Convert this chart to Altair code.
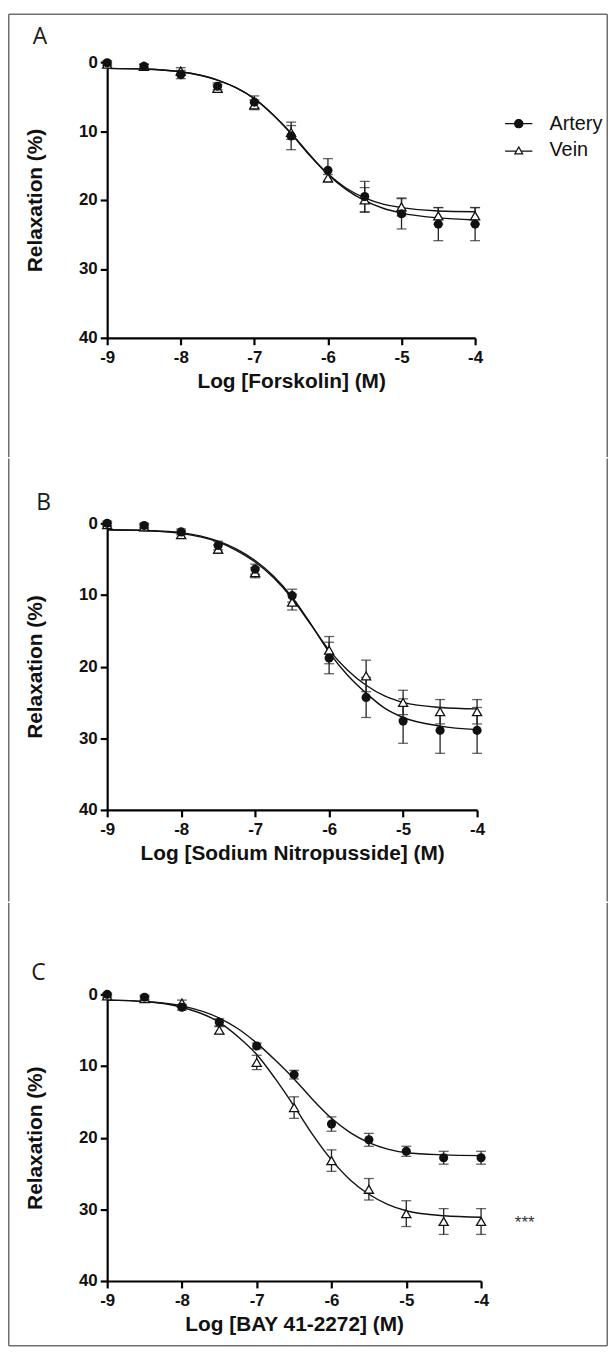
import altair as alt
import pandas as pd

# ---------------- data ----------------
SERIES = ["Artery", "Vein"]
DOSES = [-9, -8.5, -8, -7.5, -7, -6.5, -6, -5.5, -5, -4.5, -4]
CURVE_X = [-9, -8.5, -8, -7.5, -7.25, -7, -6.75, -6.5, -6.25, -6, -5.75, -5.5, -5.25, -5, -4.5, -4]
X_TICKS = [-9, -8, -7, -6, -5, -4]
Y_TICKS = [0, 10, 20, 30, 40]
Y_TITLE = "Relaxation (%)"

A_LETTER = "A"
A_XTITLE = "Log [Forskolin] (M)"
A_ART_MEAN = [0.1, 0.6, 1.8, 3.5, 5.8, 10.7, 15.7, 19.5, 22.0, 23.5, 23.5]
A_ART_SEM = [0.3, 0.3, 0.6, 0.5, 0.9, 2.0, 1.7, 2.2, 2.2, 2.4, 2.4]
A_VEIN_MEAN = [0.3, 0.6, 1.3, 3.8, 6.2, 10.2, 16.8, 20.0, 21.0, 22.3, 22.3]
A_VEIN_SEM = [0.2, 0.3, 0.5, 0.5, 0.7, 1.0, 0.5, 1.8, 1.3, 1.2, 1.2]
A_ART_CURVE = [0.9, 1.0, 1.4, 2.6, 3.7, 5.3, 7.6, 10.3, 13.4, 16.3, 18.5, 20.1, 21.2, 21.9, 22.6, 22.9]
A_VEIN_CURVE = [0.9, 1.0, 1.4, 2.6, 3.7, 5.3, 7.6, 10.4, 13.5, 16.2, 18.3, 19.7, 20.6, 21.1, 21.6, 21.7]

B_LETTER = "B"
B_XTITLE = "Log [Sodium Nitropusside] (M)"
B_ART_MEAN = [0.0, 0.3, 1.2, 3.1, 6.4, 10.1, 18.8, 24.3, 27.6, 28.9, 28.9]
B_ART_SEM = [0.3, 0.3, 0.4, 0.6, 0.7, 0.9, 2.2, 2.8, 3.1, 3.2, 3.2]
B_VEIN_MEAN = [0.2, 0.5, 1.6, 3.6, 6.9, 11.0, 17.7, 21.3, 25.0, 26.3, 26.3]
B_VEIN_SEM = [0.2, 0.3, 0.5, 0.6, 0.7, 1.1, 1.9, 2.2, 1.7, 1.7, 1.7]
B_ART_CURVE = [0.9, 1.0, 1.3, 2.5, 3.6, 5.2, 7.4, 10.3, 14.0, 18.0, 21.2, 23.7, 25.8, 27.1, 28.3, 28.8]
B_VEIN_CURVE = [0.9, 1.0, 1.4, 2.6, 3.8, 5.4, 7.6, 10.5, 14.1, 17.7, 20.5, 22.6, 24.1, 25.0, 25.7, 25.9]

C_LETTER = "C"
C_XTITLE = "Log [BAY 41-2272] (M)"
C_ART_MEAN = [0.0, 0.4, 1.8, 3.9, 7.2, 11.2, 18.1, 20.3, 21.9, 22.8, 22.8]
C_ART_SEM = [0.2, 0.3, 0.4, 0.5, 0.4, 0.6, 1.0, 0.9, 0.7, 0.9, 0.9]
C_VEIN_MEAN = [0.2, 0.6, 1.2, 5.0, 9.5, 15.8, 23.2, 27.2, 30.6, 31.7, 31.7]
C_VEIN_SEM = [0.2, 0.3, 0.4, 0.5, 1.0, 1.5, 1.5, 1.5, 1.8, 1.8, 1.8]
C_ART_CURVE = [0.8, 1.0, 1.6, 3.3, 4.8, 6.8, 9.2, 11.8, 14.7, 17.3, 19.3, 20.7, 21.6, 22.1, 22.4, 22.5]
C_VEIN_CURVE = [0.8, 1.0, 1.8, 3.9, 5.9, 8.4, 11.8, 15.6, 19.6, 23.1, 25.9, 27.9, 29.3, 30.2, 30.9, 31.1]
C_NOTE = "***"

# ---------------- layout / style ----------------
FRAME_LEFT, FRAME_RIGHT = 8, 613
FRAME_W = 1.5
FRAME_COLOR = "#6e6e6e"
INK = "#111111"
TICK_FONT = "Liberation Sans"
LETTER_FONT = "Open Sans"
PT_SIZE = 85
LEG_SIZE = 90
PX = 108  # common left edge of the three plot areas (page px)

# per-panel layout (page pixels): plot top, plot size, cell top/bottom,
# legend first-symbol centre, panel-letter left/baseline
LAYOUT = {
    "A": dict(top_y=57, size=(371, 278), cell=(8, 456), legend=(518, 119),
              letter=(33, 39), top=True, bottom=False),
    "B": dict(top_y=522, size=(373, 289), cell=(456, 904), legend=(519, 588),
              letter=(36.5, 509), top=False, bottom=False),
    "C": dict(top_y=997, size=(377, 289), cell=(904, 1352), legend=(524, 1062),
              letter=(31.5, 983), top=False, bottom=True),
}

# legend glyphs: filled shapes only (line stubs as thin bars, hollow triangle as ring)
ART_PATH = ("M-2.9,-0.14H-0.95V0.14H-2.9Z M0.95,-0.14H2.9V0.14H0.95Z "
            "M1,0A1,1 0 1,1 -1,0A1,1 0 1,1 1,0Z")
VEIN_PATH = ("M-2.9,0.01H-0.6V0.29H-2.9Z M0.6,0.01H2.9V0.29H0.6Z "
             "M0,-1L1.05,0.85L-1.05,0.85Z M0,-0.473L-0.604,0.59L0.604,0.59Z")

XS = alt.Scale(domain=[-9, -4], nice=False, zero=False)
YS = alt.Scale(domain=[0, 40], reverse=True, nice=False, zero=False)


def x_enc(title):
    return alt.X("dose:Q", scale=XS,
                 axis=alt.Axis(values=X_TICKS, title=title, labelExpr="'' + datum.value",
                               labelFlush=False, labelOverlap=False, labelPadding=5,
                               titlePadding=5))


def y_enc(field):
    return alt.Y(f"{field}:Q", scale=YS,
                 axis=alt.Axis(values=Y_TICKS, title=Y_TITLE, labelFlush=False,
                               labelOverlap=False, labelPadding=3, titlePadding=33))


def frame_rule(x1, x2, y1, y2):
    return alt.Chart(alt.Data(values=[{"f": 1}])).mark_rule(
        color=FRAME_COLOR, strokeWidth=FRAME_W
    ).encode(x=alt.value(x1), x2=alt.value(x2), y=alt.value(y1), y2=alt.value(y2))


def build_panel(letter, xtitle, am, asem, vm, vsem, ac, vc, note=None):
    L = LAYOUT[letter]
    px, py = PX, L["top_y"]
    w, h = L["size"]
    ctop, cbot = L["cell"]
    half = FRAME_W / 2
    xl = FRAME_LEFT - px + half
    xr = FRAME_RIGHT - px - half
    yt = ctop - py + half
    yb = cbot - py - half

    pts = pd.DataFrame({
        "dose": DOSES * 2,
        "val": am + vm,
        "sem": asem + vsem,
        "series": ["Artery"] * len(DOSES) + ["Vein"] * len(DOSES),
    })
    pts["lo"] = pts["val"] - pts["sem"]
    pts["hi"] = pts["val"] + pts["sem"]
    caps = pd.concat([
        pts[["dose", "lo"]].rename(columns={"lo": "val"}),
        pts[["dose", "hi"]].rename(columns={"hi": "val"}),
    ])
    curves = pd.DataFrame({
        "dose": CURVE_X * 2,
        "val": ac + vc,
        "series": ["Artery"] * len(CURVE_X) + ["Vein"] * len(CURVE_X),
    })

    X = x_enc(xtitle)
    curve = alt.Chart(curves).mark_line(
        interpolate="monotone", color=INK, strokeWidth=1.4
    ).encode(x=X, y=y_enc("val"), detail="series:N")

    bars = alt.Chart(pts).mark_rule(color="#222222", strokeWidth=1.3).encode(
        x=X, y=y_enc("lo"), y2="hi:Q")
    cap = alt.Chart(caps).mark_tick(
        orient="horizontal", size=10, thickness=1.3, color="#222222"
    ).encode(x=X, y=y_enc("val"))

    vein = alt.Chart(pts).transform_filter("datum.series == 'Vein'").mark_point(
        shape="triangle-up", filled=True, fill="white", stroke=INK, strokeWidth=1.3,
        size=PT_SIZE, opacity=1
    ).encode(x=X, y=y_enc("val"))
    art = alt.Chart(pts).transform_filter("datum.series == 'Artery'").mark_point(
        shape="circle", filled=True, color=INK, size=PT_SIZE, opacity=1
    ).encode(x=X, y=y_enc("val"))

    lx, ly = L["legend"]
    leg = alt.Legend(
        orient="none", legendX=lx - px - 5, legendY=ly - py - 10, title=None,
        labelFont=TICK_FONT, labelFontSize=20, labelColor=INK, labelOffset=21,
        symbolSize=LEG_SIZE, symbolFillColor=INK, symbolStrokeWidth=0,
        rowPadding=7, padding=0, symbolOpacity=1,
    )
    legend_layer = alt.Chart(pts).transform_filter("false").mark_point(
        filled=True, color=INK, opacity=1, strokeWidth=0
    ).encode(
        shape=alt.Shape("series:N", scale=alt.Scale(domain=SERIES, range=[ART_PATH, VEIN_PATH]),
                        legend=leg),
    )

    lxp, lyp = L["letter"]
    letter_mark = alt.Chart(alt.Data(values=[{"t": letter}])).mark_text(
        align="left", baseline="alphabetic", font=LETTER_FONT, fontSize=23,
        fontWeight="normal", color="#1a1a1a"
    ).encode(text="t:N", x=alt.value(lxp - px), y=alt.value(lyp - py))

    layers = [
        frame_rule(xl, xl, yt, yb),
        frame_rule(xr, xr, yt, yb),
    ]
    if L["top"]:
        layers.append(frame_rule(xl, xr, yt, yt))
    if L["bottom"]:
        layers.append(frame_rule(xl, xr, yb, yb))
    layers += [letter_mark, curve, bars, cap, vein, art, legend_layer]

    if note:
        layers.append(
            alt.Chart(pts).transform_filter("datum.series == 'Vein' && datum.dose == -4")
            .mark_text(text=note, dx=44, dy=7, baseline="alphabetic", align="center",
                       font=TICK_FONT, fontSize=17, color="#333333")
            .encode(x=X, y=y_enc("val"))
        )

    return alt.layer(*layers).properties(width=w, height=h)


pa = build_panel(A_LETTER, A_XTITLE, A_ART_MEAN, A_ART_SEM, A_VEIN_MEAN, A_VEIN_SEM,
                 A_ART_CURVE, A_VEIN_CURVE)
pb = build_panel(B_LETTER, B_XTITLE, B_ART_MEAN, B_ART_SEM, B_VEIN_MEAN, B_VEIN_SEM,
                 B_ART_CURVE, B_VEIN_CURVE)
pc = build_panel(C_LETTER, C_XTITLE, C_ART_MEAN, C_ART_SEM, C_VEIN_MEAN, C_VEIN_SEM,
                 C_ART_CURVE, C_VEIN_CURVE, note=C_NOTE)

chart = alt.vconcat(pa, pb, pc, spacing=0).properties(
    padding=0, background="white"
).configure_view(strokeWidth=0).configure_axis(
    grid=False, domainColor="black", domainWidth=2.2, tickColor="black", tickWidth=2.2,
    tickSize=7, labelFont=TICK_FONT, labelFontWeight="bold", labelFontSize=17,
    labelColor=INK, titleFont=TICK_FONT, titleFontWeight="bold", titleFontSize=21,
    titleColor=INK,
)

chart.save("out.html", embed_options={"renderer": "svg", "actions": False})
